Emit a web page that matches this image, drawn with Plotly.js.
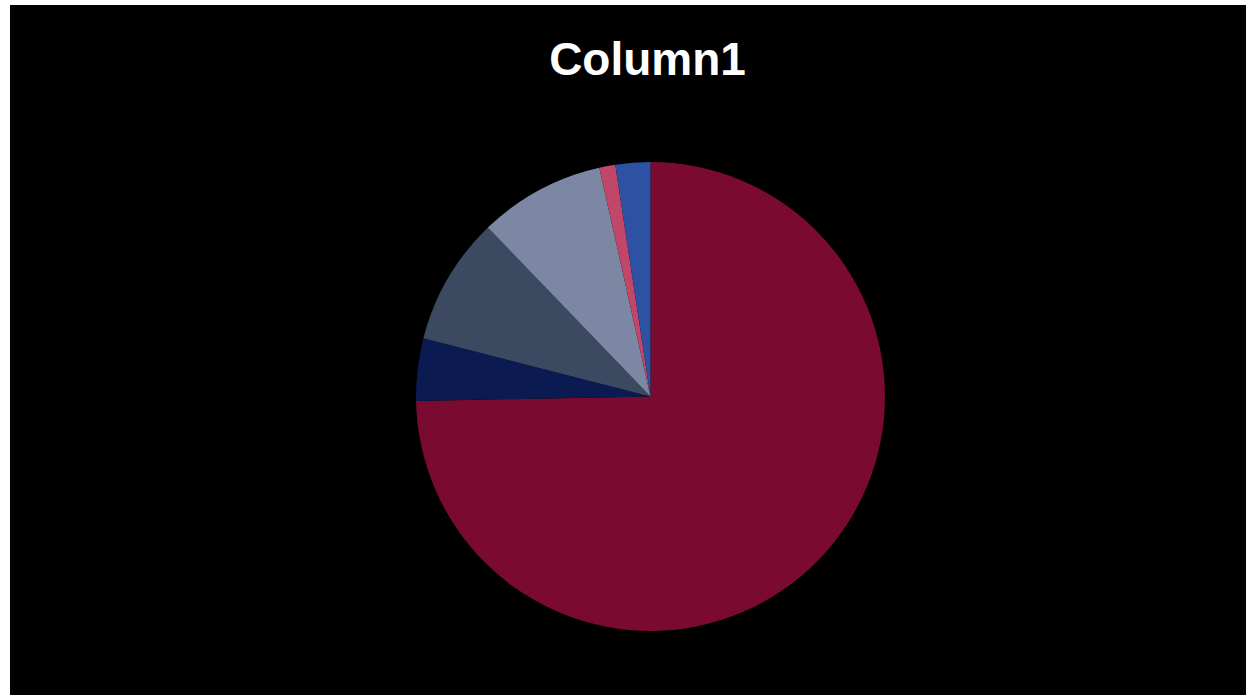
<!DOCTYPE html>
<html>
<head>
<meta charset="utf-8">
<script src="https://cdn.plot.ly/plotly-3.0.1.min.js"></script>
<style>
html,body{margin:0;padding:0;background:#ffffff;width:1246px;height:695px;overflow:hidden;}
#chart{position:absolute;left:10px;top:5px;width:1236px;height:690px;}
</style>
</head>
<body>
<div id="chart"></div>
<script>
const categories = ["1", "2", "3", "4", "5", "6"];
const values = [74.7, 4.3, 8.8, 8.7, 1.1, 2.4];
const colors = ["#7A0A30", "#0B1A50", "#3C4A61", "#7B87A3", "#C0476A", "#2E52A3"];
const chartTitle = "Column1";

const data = [{
  type: "pie",
  labels: categories,
  values: values,
  sort: false,
  direction: "clockwise",
  rotation: 0,
  textinfo: "none",
  hoverinfo: "none",
  marker: {colors: colors, line: {width: 0}},
  domain: {x: [0.3285, 0.7079], y: [0.0928, 0.7725]},
  showlegend: false
}];

const layout = {
  width: 1236,
  height: 690,
  paper_bgcolor: "#000000",
  plot_bgcolor: "#000000",
  margin: {l: 0, r: 0, t: 0, b: 0},
  showlegend: false,
  title: {
    text: chartTitle,
    font: {family: "Liberation Sans, Arial, sans-serif", size: 46, color: "#ffffff", weight: "bold"},
    x: 0.5158, xref: "paper", xanchor: "center",
    y: 0.9217, yref: "paper", yanchor: "middle"
  }
};

Plotly.newPlot("chart", data, layout, {staticPlot: true, displayModeBar: false});
</script>
</body>
</html>
